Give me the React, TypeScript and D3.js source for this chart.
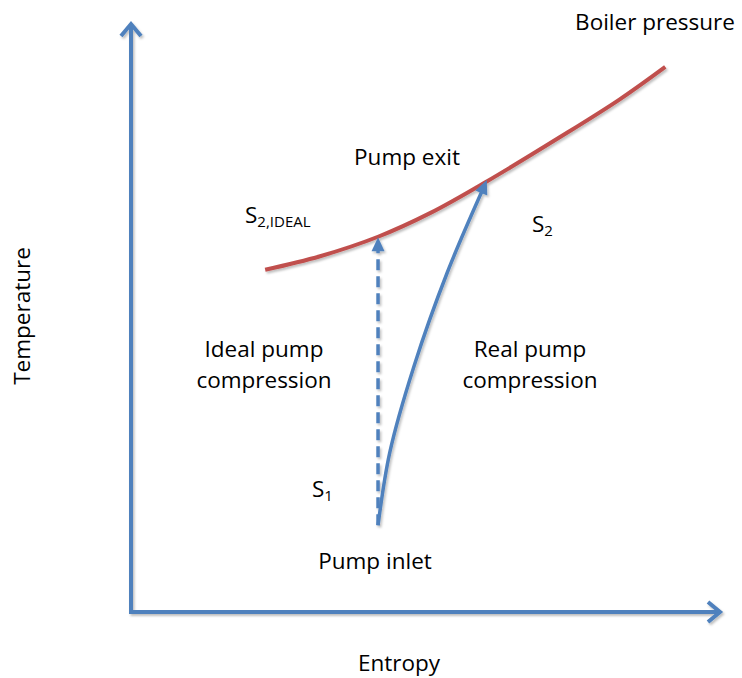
import React from "react";
import * as d3 from "d3";

// Data in normalized (entropy, temperature) units, 0..1 on each axis
const boilerPressureS = [0.227, 0.32, 0.418, 0.506, 0.599, 0.726, 0.827, 0.904];
const boilerPressureT = [0.58, 0.603, 0.636, 0.676, 0.728, 0.805, 0.869, 0.924];

const realPumpS = [0.418, 0.438, 0.479, 0.535, 0.602];
const realPumpT = [0.147, 0.271, 0.417, 0.575, 0.732];

const idealPumpS = [0.418, 0.418];
const idealPumpT = [0.147, 0.635];

const W = 742;
const H = 678;
const BLUE = "#4F81BD";
const RED = "#C0504D";
const FONT = "'Open Sans', Lato, sans-serif";

export default function App() {
  const x = d3.scaleLinear().domain([0, 1]).range([131, 722]);
  const y = d3.scaleLinear().domain([0, 1]).range([612, 22]);

  const red = d3
    .line<[number, number]>()
    .x((d) => x(d[0]))
    .y((d) => y(d[1]))
    .curve(d3.curveCatmullRom.alpha(0.5));
  const redPts = boilerPressureS.map((s, i) => [s, boilerPressureT[i]] as [number, number]);
  const realPts = realPumpS.map((s, i) => [s, realPumpT[i]] as [number, number]);
  const idealPts = idealPumpS.map((s, i) => [s, idealPumpT[i]] as [number, number]);

  const realEnd = realPts[realPts.length - 1];
  const realPrev = realPts[realPts.length - 2];
  const ex = x(realEnd[0]);
  const ey = y(realEnd[1]);
  const ang = Math.atan2(ey - y(realPrev[1]), ex - x(realPrev[0]));

  const arrowHead = (tx: number, ty: number, a: number, len = 14, half = 6.5) => {
    const bx = tx - len * Math.cos(a);
    const by = ty - len * Math.sin(a);
    const px = -Math.sin(a) * half;
    const py = Math.cos(a) * half;
    return `M${tx},${ty}L${bx + px},${by + py}L${bx - px},${by - py}Z`;
  };

  const x0 = x(0);
  const y0 = y(0);
  const yTop = y(1);
  const xRight = x(1);

  const idealTopX = x(idealPts[1][0]);
  const idealTopY = y(idealPts[1][1]);

  const fs = 22.5;
  const sub = 15;

  return (
    <svg
      width={W}
      height={H}
      style={{ position: "absolute", left: 0, top: 0, background: "#fff" }}
    >
      <defs>
        <filter id="sh" x="-10%" y="-10%" width="120%" height="120%">
          <feDropShadow dx="1.5" dy="2" stdDeviation="1.2" floodColor="#000" floodOpacity="0.25" />
        </filter>
      </defs>
      <g filter="url(#sh)">
        <path d={`M${x0},${y0 + 2}L${x0},${yTop + 2}`} stroke={BLUE} strokeWidth={4} fill="none" />
        <path
          d={`M${x0 - 10},${yTop + 14}L${x0},${yTop + 2}L${x0 + 10},${yTop + 14}`}
          stroke={BLUE}
          strokeWidth={4}
          fill="none"
        />
        <path d={`M${x0 - 2},${y0}L${xRight - 2},${y0}`} stroke={BLUE} strokeWidth={4} fill="none" />
        <path
          d={`M${xRight - 14},${y0 - 10}L${xRight - 2},${y0}L${xRight - 14},${y0 + 10}`}
          stroke={BLUE}
          strokeWidth={4}
          fill="none"
        />
        <path d={red(redPts) ?? ""} stroke={RED} strokeWidth={4} fill="none" />
        <path
          d={`M${x(idealPts[0][0])},${y(idealPts[0][1])}L${idealTopX},${idealTopY + 12}`}
          stroke={BLUE}
          strokeWidth={3.5}
          strokeDasharray="11,6"
          fill="none"
        />
        <path d={arrowHead(idealTopX, idealTopY, -Math.PI / 2)} fill={BLUE} />
        <path
          d={
            red(
              realPts.slice(0, -1).concat([[
                x.invert(ex - 10 * Math.cos(ang)),
                y.invert(ey - 10 * Math.sin(ang)),
              ]])
            ) ?? ""
          }
          stroke={BLUE}
          strokeWidth={3.5}
          fill="none"
        />
        <path d={arrowHead(ex, ey, ang)} fill={BLUE} />
      </g>

      <g fontFamily={FONT} fontSize={fs} fill="#000">
        <text x={655} y={30} textAnchor="middle">Boiler pressure</text>
        <text x={407} y={165} textAnchor="middle">Pump exit</text>
        <text x={245} y={223}>
          S<tspan fontSize={sub} dy={4}>2,IDEAL</tspan>
        </text>
        <text x={532} y={232}>
          S<tspan fontSize={sub} dy={4}>2</tspan>
        </text>
        <text x={264} y={357} textAnchor="middle">Ideal pump</text>
        <text x={264} y={388} textAnchor="middle">compression</text>
        <text x={530} y={357} textAnchor="middle">Real pump</text>
        <text x={530} y={388} textAnchor="middle">compression</text>
        <text x={312} y={497}>
          S<tspan fontSize={sub} dy={4}>1</tspan>
        </text>
        <text x={375} y={569} textAnchor="middle">Pump inlet</text>
        <text x={399} y={671} textAnchor="middle">Entropy</text>
        <text x={0} y={0} textAnchor="middle" transform="translate(30,316) rotate(-90)">
          Temperature
        </text>
      </g>
    </svg>
  );
}
